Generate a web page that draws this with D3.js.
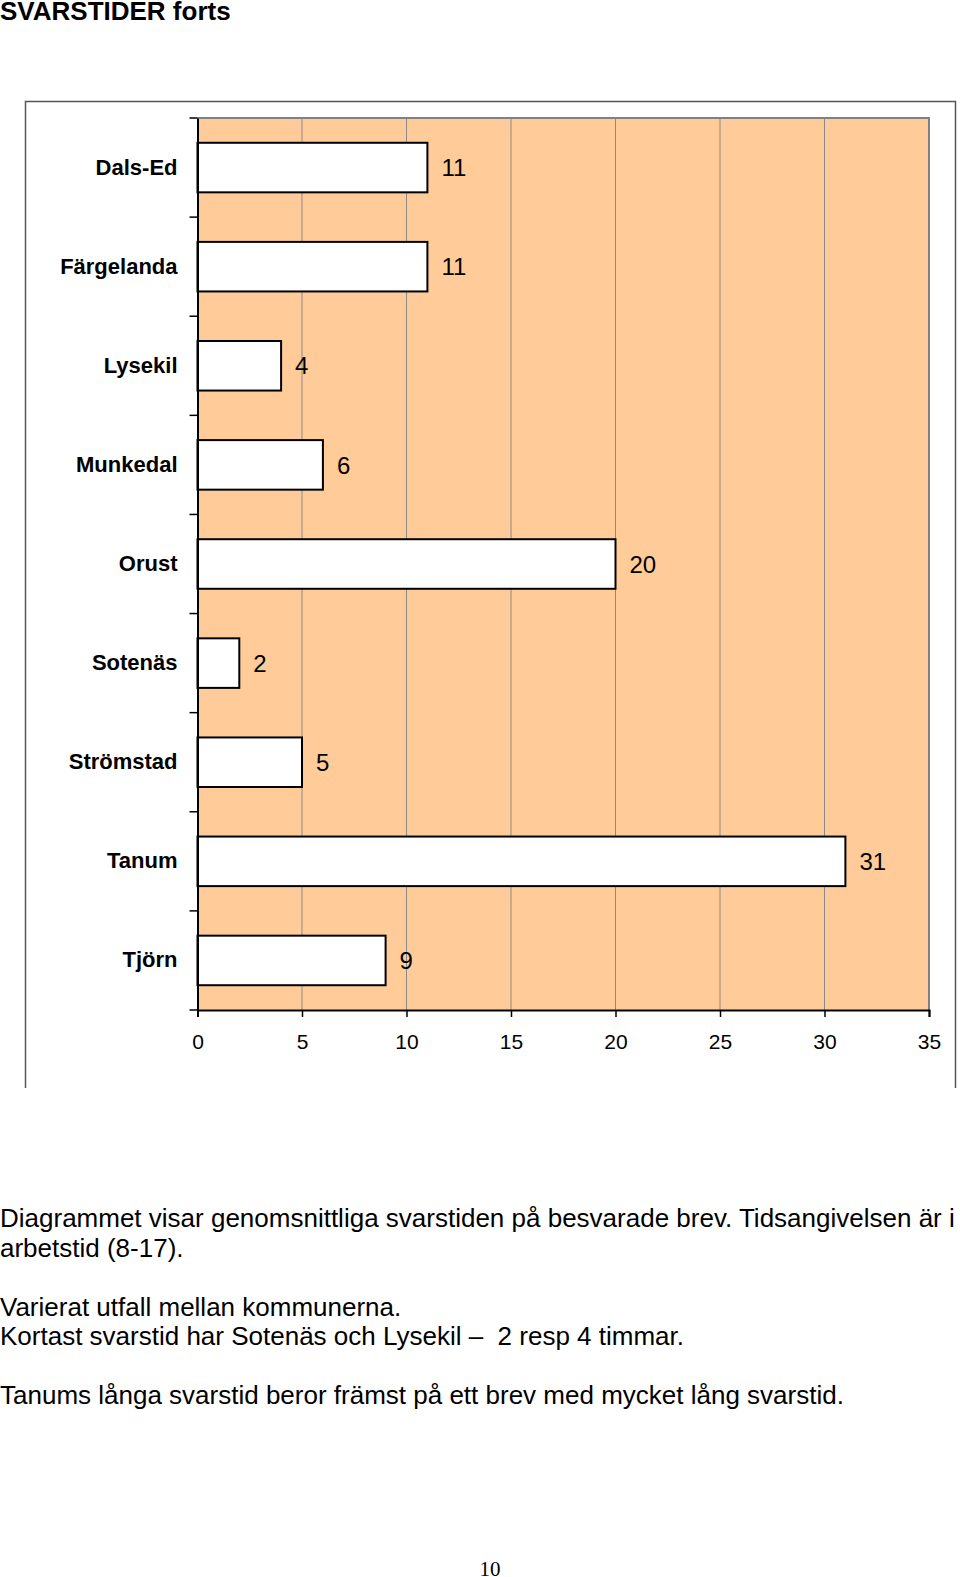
<!DOCTYPE html>
<html>
<head>
<meta charset="utf-8">
<script src="https://cdn.jsdelivr.net/npm/d3@7"></script>
<style>
  body { margin: 0; background: #fff; }
  svg { display: block; }
</style>
</head>
<body>
<script>
// data
var categories = ["Dals-Ed", "Färgelanda", "Lysekil", "Munkedal", "Orust", "Sotenäs", "Strömstad", "Tanum", "Tjörn"];
var values = [11, 11, 4, 6, 20, 2, 5, 31, 9];
var xTicks = [0, 5, 10, 15, 20, 25, 30, 35];

var title = "SVARSTIDER forts";
var textLines = [
  "Diagrammet visar genomsnittliga svarstiden på besvarade brev. Tidsangivelsen är i",
  "arbetstid (8-17).",
  "",
  "Varierat utfall mellan kommunerna.",
  "Kortast svarstid har Sotenäs och Lysekil –  2 resp 4 timmar.",
  "",
  "Tanums långa svarstid beror främst på ett brev med mycket lång svarstid."
];
var pageNumber = "10";

var W = 960, H = 1577;
var font = "Arial, 'Liberation Sans', Helvetica, sans-serif";

var svg = d3.select("body").append("svg").attr("width", W).attr("height", H);

// page title
svg.append("text")
  .attr("x", 0).attr("y", 20)
  .attr("font-family", font).attr("font-weight", "bold").attr("font-size", 26)
  .text(title);

// outer chart frame (open at the bottom, page cut)
svg.append("path")
  .attr("d", "M25.5,1088 V101.5 H955.5 V1088")
  .attr("fill", "none").attr("stroke", "#555").attr("stroke-width", 1.5);

var plot = {left: 197.5, right: 929, top: 118, bottom: 1010};

var x = d3.scaleLinear().domain([0, 35]).range([plot.left, plot.right]);
var y = d3.scaleBand().domain(categories).range([plot.top, plot.bottom]);

// plot area
svg.append("rect")
  .attr("x", plot.left).attr("y", plot.top)
  .attr("width", plot.right - plot.left).attr("height", plot.bottom - plot.top)
  .attr("fill", "#FFCC99");

// vertical gridlines
svg.append("g").selectAll("line")
  .data(xTicks.filter(function(d){ return d > 0 && d < 35; }))
  .enter().append("line")
  .attr("x1", function(d){ return x(d); }).attr("x2", function(d){ return x(d); })
  .attr("y1", plot.top).attr("y2", plot.bottom)
  .attr("stroke", "#8a8a8a").attr("stroke-width", 1);

// plot border top + right
svg.append("path")
  .attr("d", "M" + plot.left + "," + plot.top + " H" + plot.right + " V" + plot.bottom)
  .attr("fill", "none").attr("stroke", "#808080").attr("stroke-width", 2);

// bars
svg.append("g").selectAll("rect")
  .data(values)
  .enter().append("rect")
  .attr("x", x(0))
  .attr("y", function(d, i){ return y(categories[i]) + y.bandwidth() * 0.25; })
  .attr("width", function(d){ return x(d) - x(0); })
  .attr("height", y.bandwidth() * 0.5)
  .attr("fill", "#fff").attr("stroke", "#000").attr("stroke-width", 2);

// value labels
svg.append("g").selectAll("text")
  .data(values)
  .enter().append("text")
  .attr("x", function(d){ return x(d) + 14; })
  .attr("y", function(d, i){ return y(categories[i]) + y.bandwidth() / 2; })
  .attr("dy", "0.36em")
  .attr("font-family", font).attr("font-size", 24)
  .text(function(d){ return d; });

// x axis
var xAxis = svg.append("g")
  .attr("transform", "translate(0," + plot.bottom + ")")
  .call(d3.axisBottom(x).tickValues(xTicks).tickSize(7).tickPadding(17));
xAxis.select(".domain").attr("stroke", "#000").attr("stroke-width", 2);
xAxis.selectAll(".tick line").attr("stroke", "#000").attr("stroke-width", 1.5);
xAxis.selectAll("text").attr("font-family", font).attr("font-size", 21).attr("fill", "#000");

// y axis: labels at band centres, ticks at band edges
var yAxis = svg.append("g")
  .attr("transform", "translate(" + plot.left + ",0)")
  .call(d3.axisLeft(y).tickSize(0).tickPadding(20));
yAxis.select(".domain").attr("stroke", "#000").attr("stroke-width", 2);
yAxis.selectAll("text").attr("font-family", font).attr("font-size", 22)
  .attr("font-weight", "bold").attr("fill", "#000");

var edges = categories.map(function(c){ return y(c); }).concat([plot.bottom]);
svg.append("g").selectAll("line")
  .data(edges)
  .enter().append("line")
  .attr("x1", plot.left - 8).attr("x2", plot.left)
  .attr("y1", function(d){ return d; }).attr("y2", function(d){ return d; })
  .attr("stroke", "#000").attr("stroke-width", 1.5);

// text under the chart
var lineY = d3.scaleLinear().domain([0, 1]).range([1227, 1256.5]);
svg.append("g").selectAll("text")
  .data(textLines)
  .enter().append("text")
  .attr("x", 0)
  .attr("y", function(d, i){ return lineY(i); })
  .attr("font-family", font).attr("font-size", 26)
  .style("white-space", "pre")
  .text(function(d){ return d; });

// page number
svg.append("text")
  .attr("x", 490).attr("y", 1576)
  .attr("text-anchor", "middle")
  .attr("font-family", "'Liberation Serif', 'Times New Roman', serif").attr("font-size", 21)
  .text(pageNumber);
</script>
</body>
</html>
